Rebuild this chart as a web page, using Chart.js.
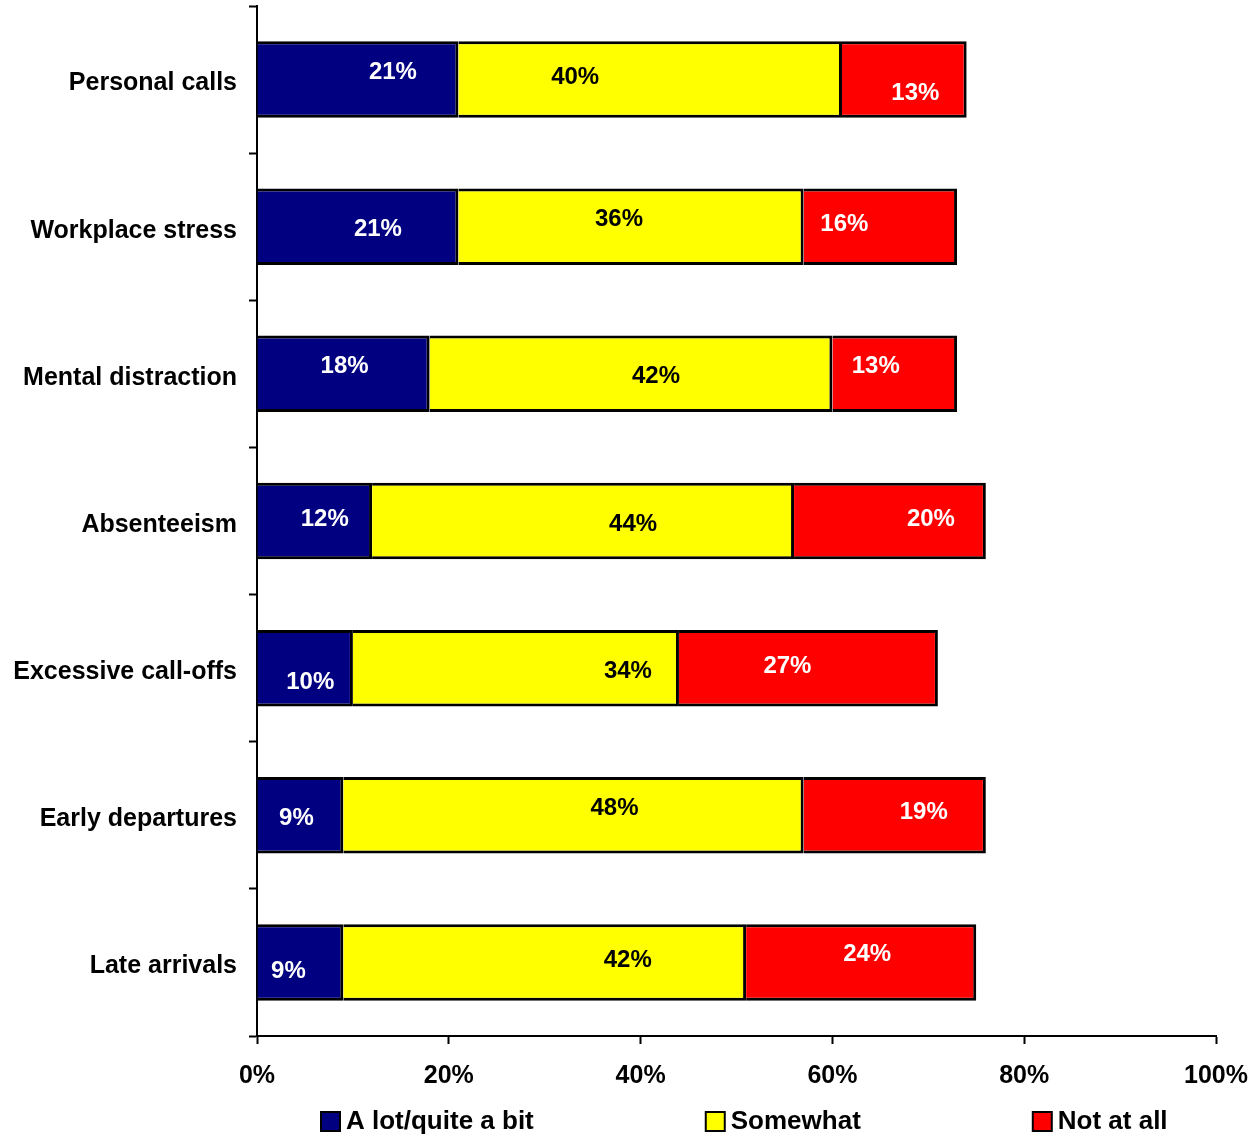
<!DOCTYPE html>
<html>
<head>
<meta charset="utf-8">
<title>Impact on work</title>
<script src="https://cdn.jsdelivr.net/npm/chart.js@4.4.0/dist/chart.umd.min.js"></script>
<style>
  html, body { margin: 0; padding: 0; background: #fff; }
  canvas { display: block; }
</style>
</head>
<body>
<canvas id="myChart" width="1260" height="1137"></canvas>
<script>
const categories = ['Personal calls', 'Workplace stress', 'Mental distraction', 'Absenteeism', 'Excessive call-offs', 'Early departures', 'Late arrivals'];
const seriesNames = ['A lot/quite a bit', 'Somewhat', 'Not at all'];
const aLot = [21, 21, 18, 12, 10, 9, 9];
const somewhat = [40, 36, 42, 44, 34, 48, 42];
const notAtAll = [13, 16, 13, 20, 27, 19, 24];
const xTicks = [0, 20, 40, 60, 80, 100];

// nudges (px) for each value label, measured from the middle of its segment
const aLotShift = [[35, -10], [20, 0], [1, -10], [10, -5], [5, 11], [-4, 0], [-12, 6]];
const somewhatShift = [[-75, -5], [-12, -10], [25, 0], [50, 0], [112, 0], [41, -10], [83, -5]];
const notAtAllShift = [[11, 11], [-36, -5], [-19, -10], [41, -5], [-21, -5], [29, -6], [6, -11]];

const FONT = '"Liberation Sans", Arial, sans-serif';

// value written inside every segment
const segmentLabels = {
  id: 'segmentLabels',
  afterDatasetsDraw(chart) {
    const ctx = chart.ctx;
    ctx.save();
    ctx.font = 'bold 24px ' + FONT;
    ctx.textAlign = 'center';
    ctx.textBaseline = 'middle';
    chart.data.datasets.forEach((ds, i) => {
      chart.getDatasetMeta(i).data.forEach((bar, j) => {
        const p = bar.getProps(['x', 'y', 'base'], true);
        const shift = ds.labelShift[j];
        ctx.fillStyle = ds.labelColor;
        ctx.fillText(ds.data[j] + '%', (p.x + p.base) / 2 + shift[0], p.y + shift[1] + 3);
      });
    });
    ctx.restore();
  }
};

// one-row legend under the x axis
const legendRow = {
  id: 'legendRow',
  afterDraw(chart) {
    const ctx = chart.ctx;
    const area = chart.chartArea;
    const y = area.bottom + 85;
    let x = area.left + 64;
    ctx.save();
    ctx.font = 'bold 26px ' + FONT;
    ctx.textBaseline = 'middle';
    ctx.textAlign = 'left';
    chart.data.datasets.forEach(ds => {
      ctx.fillStyle = ds.backgroundColor;
      ctx.fillRect(x, y - 9, 19, 19);
      ctx.lineWidth = 2;
      ctx.strokeStyle = '#000';
      ctx.strokeRect(x, y - 9, 19, 19);
      ctx.fillStyle = '#000';
      ctx.fillText(ds.label, x + 25, y + 1);
      x += 25 + ctx.measureText(ds.label).width + 172;
    });
    ctx.restore();
  }
};

function makeSet(label, data, fill, textColor, shift) {
  return {
    label: label,
    data: data,
    backgroundColor: fill,
    borderColor: '#000',
    borderWidth: 3,
    categoryPercentage: 1,
    barPercentage: 0.52,
    labelColor: textColor,
    labelShift: shift
  };
}

const ctx = document.getElementById('myChart').getContext('2d');
new Chart(ctx, {
  type: 'bar',
  data: {
    labels: categories,
    datasets: [
      makeSet(seriesNames[0], aLot, '#000080', '#fff', aLotShift),
      makeSet(seriesNames[1], somewhat, '#ffff00', '#000', somewhatShift),
      makeSet(seriesNames[2], notAtAll, '#ff0000', '#fff', notAtAllShift)
    ]
  },
  options: {
    indexAxis: 'y',
    responsive: false,
    animation: false,
    layout: { padding: { top: 6, right: 44, bottom: 0, left: 0 } },
    plugins: {
      legend: { display: false },
      tooltip: { enabled: false }
    },
    scales: {
      x: {
        stacked: true,
        min: 0,
        max: 100,
        afterBuildTicks: scale => { scale.ticks = xTicks.map(v => ({ value: v })); },
        afterFit: scale => {
          scale.height = 101;
          scale.paddingLeft = 0;
          scale.paddingRight = 0;
        },
        ticks: {
          color: '#000',
          padding: 17,
          font: { family: FONT, size: 25, weight: 'bold' },
          callback: v => v + '%'
        },
        grid: {
          drawOnChartArea: false,
          drawTicks: true,
          tickLength: 8,
          tickWidth: 2,
          tickColor: '#000'
        },
        border: { display: true, color: '#000', width: 2 }
      },
      y: {
        stacked: true,
        afterFit: scale => {
          scale.width = 257;
          scale.paddingTop = 0;
          scale.paddingBottom = 0;
        },
        ticks: {
          color: '#000',
          padding: 12,
          labelOffset: 4,
          font: { family: FONT, size: 25, weight: 'bold' }
        },
        grid: {
          offset: true,
          drawOnChartArea: false,
          drawTicks: true,
          tickLength: 8,
          tickWidth: 2,
          tickColor: '#000'
        },
        border: { display: true, color: '#000', width: 2 }
      }
    }
  },
  plugins: [segmentLabels, legendRow]
});
</script>
</body>
</html>
